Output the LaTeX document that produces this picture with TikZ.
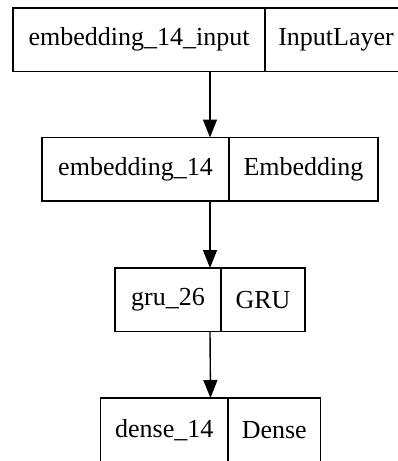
\documentclass[tikz,border=0pt]{standalone}
\usepackage{fontspec}
\setmainfont{Liberation Serif}
\usetikzlibrary{arrows.meta,fit}
\begin{document}
\begin{tikzpicture}[x=1pt,y=-1pt,
  cell/.style={draw, line width=1.4pt, rectangle, inner sep=0pt, outer sep=0pt, anchor=north west, minimum height=63.5pt, font=\fontsize{26}{30}\selectfont},
  rec/.style={inner sep=0pt, outer sep=0pt},
  arr/.style={line width=1.4pt, -{Triangle[length=18pt,width=14pt]}}]
\useasboundingbox (0,0) rectangle (398,461);
\node[cell, minimum width=252pt] (a1) at (13,8) {embedding\_14\_input};
\node[cell, minimum width=142pt] (b1) at (265,8) {InputLayer};
\node[rec, fit=(a1)(b1)] (r1) {};
\node[cell, minimum width=187pt] (a2) at (42,137.5) {embedding\_14};
\node[cell, minimum width=149pt] (b2) at (229,137.5) {Embedding};
\node[rec, fit=(a2)(b2)] (r2) {};
\node[cell, minimum width=106pt] (a3) at (115,268) {gru\_26};
\node[cell, minimum width=84pt] (b3) at (221,268) {GRU};
\node[rec, fit=(a3)(b3)] (r3) {};
\node[cell, minimum width=127.5pt] (a4) at (100.5,398) {dense\_14};
\node[cell, minimum width=92.5pt] (b4) at (228,398) {Dense};
\node[rec, fit=(a4)(b4)] (r4) {};
\draw[arr] (r1.south) -- (r2.north);
\draw[arr] (r2.south) -- (r3.north);
\draw[arr] (r3.south) -- (r4.north);
\end{tikzpicture}
\end{document}
